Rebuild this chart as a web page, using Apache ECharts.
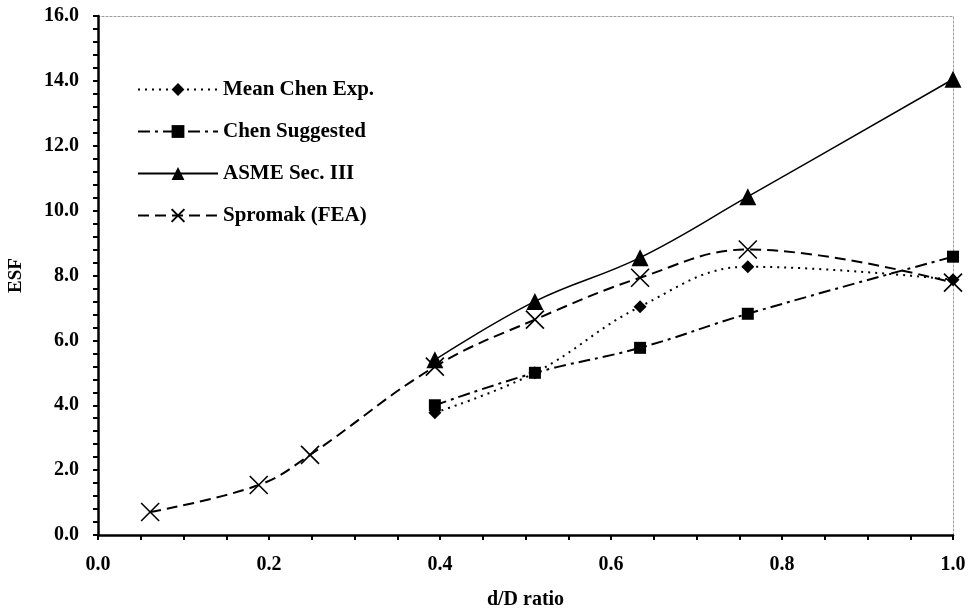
<!DOCTYPE html>
<html><head><meta charset="utf-8">
<script src="https://cdn.jsdelivr.net/npm/echarts@6/dist/echarts.min.js"></script>
<style>html,body{margin:0;padding:0;background:#fff}#c{width:975px;height:611px}</style>
</head><body><div id="c"></div>
<script>
const seriesNames = ['Mean Chen Exp.', 'Chen Suggested', 'ASME Sec. III', 'Spromak (FEA)'];
const xShort = [0.394, 0.511, 0.634, 0.760, 1.0];
const meanChenExp = [3.77, 5.0, 7.04, 8.27, 7.87];
const chenSuggested = [4.0, 5.0, 5.77, 6.82, 8.58];
const asmeSecIII = [5.4, 7.2, 8.55, 10.43, 14.05];
const xSpromak = [0.061, 0.188, 0.248, 0.394, 0.511, 0.634, 0.760, 1.0];
const spromakFEA = [0.71, 1.54, 2.47, 5.19, 6.64, 7.93, 8.8, 7.78];
const xTicks = [0.0, 0.2, 0.4, 0.6, 0.8, 1.0];
const yTicks = [0, 2, 4, 6, 8, 10, 12, 14, 16];

const pair = (xs, ys) => xs.map((x, i) => [x, ys[i]]);
const FONT = '"Liberation Serif", "Times New Roman", serif';
const X_PATH = 'path://M0,0L10,10M10,0L0,10';

const chart = echarts.init(document.getElementById('c'), null, {renderer: 'canvas'});
const base = (name, data, symbol, size, type, width) => ({
  name, type: 'line', data, symbol, symbolSize: size, smooth: 0.4,
  lineStyle: {color: '#000', width: width, type: type},
  itemStyle: {color: '#000', borderColor: '#000', borderWidth: 0},
  z: 3
});
const spro = base(seriesNames[3], pair(xSpromak, spromakFEA), X_PATH, 18, [11, 6], 2);
spro.itemStyle = {color: 'rgba(0,0,0,0)', borderColor: '#000', borderWidth: 1.6};

const fmt = ticks => v => { const t = ticks.find(k => Math.abs(k - v) < 1e-6); return t === undefined ? '' : t.toFixed(1); };
const borderAxis = {
  axisLine: {show: true, onZero: false, lineStyle: {color: '#999', width: 1, type: [2, 2]}},
  axisTick: {show: false}, axisLabel: {show: false}, splitLine: {show: false}
};

chart.setOption({
  backgroundColor: '#fff',
  animation: false,
  grid: {left: 98, right: 22, top: 16, bottom: 76, containLabel: false, outerBoundsMode: 'none'},
  legend: {
    orient: 'vertical', left: 132, top: 74, itemWidth: 80, itemHeight: 16, itemGap: 21,
    textStyle: {fontFamily: FONT, fontWeight: 'bold', fontSize: 21, color: '#000'},
    data: seriesNames
  },
  xAxis: [{
    type: 'value', min: 0, max: 1, interval: 0.2,
    name: 'd/D ratio', nameLocation: 'middle', nameGap: 55,
    nameTextStyle: {fontFamily: FONT, fontWeight: 'bold', fontSize: 20, color: '#000'},
    axisLine: {show: true, onZero: false, lineStyle: {color: '#000', width: 2.5}},
    axisTick: {show: true, length: 5, lineStyle: {color: '#000', width: 2}},
    minorTick: {show: true, splitNumber: 4, length: 5, lineStyle: {color: '#000', width: 2}},
    splitLine: {show: false},
    axisLabel: {margin: 20, fontFamily: FONT, fontWeight: 'bold', fontSize: 20, color: '#000', formatter: fmt(xTicks)},
    z: 5
  }, Object.assign({type: 'value', min: 0, max: 1, position: 'top'}, borderAxis)],
  yAxis: [{
    type: 'value', min: 0, max: 16, interval: 2,
    name: 'ESF', nameLocation: 'middle', nameGap: 72, nameRotate: 90,
    nameTextStyle: {fontFamily: FONT, fontWeight: 'bold', fontSize: 19, color: '#000'},
    axisLine: {show: true, onZero: false, lineStyle: {color: '#000', width: 2.5}},
    axisTick: {show: true, length: 5, lineStyle: {color: '#000', width: 2}},
    minorTick: {show: true, splitNumber: 5, length: 5, lineStyle: {color: '#000', width: 2}},
    splitLine: {show: false},
    axisLabel: {margin: 19, fontFamily: FONT, fontWeight: 'bold', fontSize: 20, color: '#000', formatter: fmt(yTicks)},
    z: 5
  }, Object.assign({type: 'value', min: 0, max: 16, position: 'right'}, borderAxis)],
  series: [
    base(seriesNames[0], pair(xShort, meanChenExp), 'diamond', 13, [2, 5], 2),
    base(seriesNames[1], pair(xShort, chenSuggested), 'rect', 12, [12, 5, 3, 5], 2),
    base(seriesNames[2], pair(xShort, asmeSecIII), 'triangle', 17, 'solid', 1.5),
    spro
  ]
});
</script>
</body></html>
